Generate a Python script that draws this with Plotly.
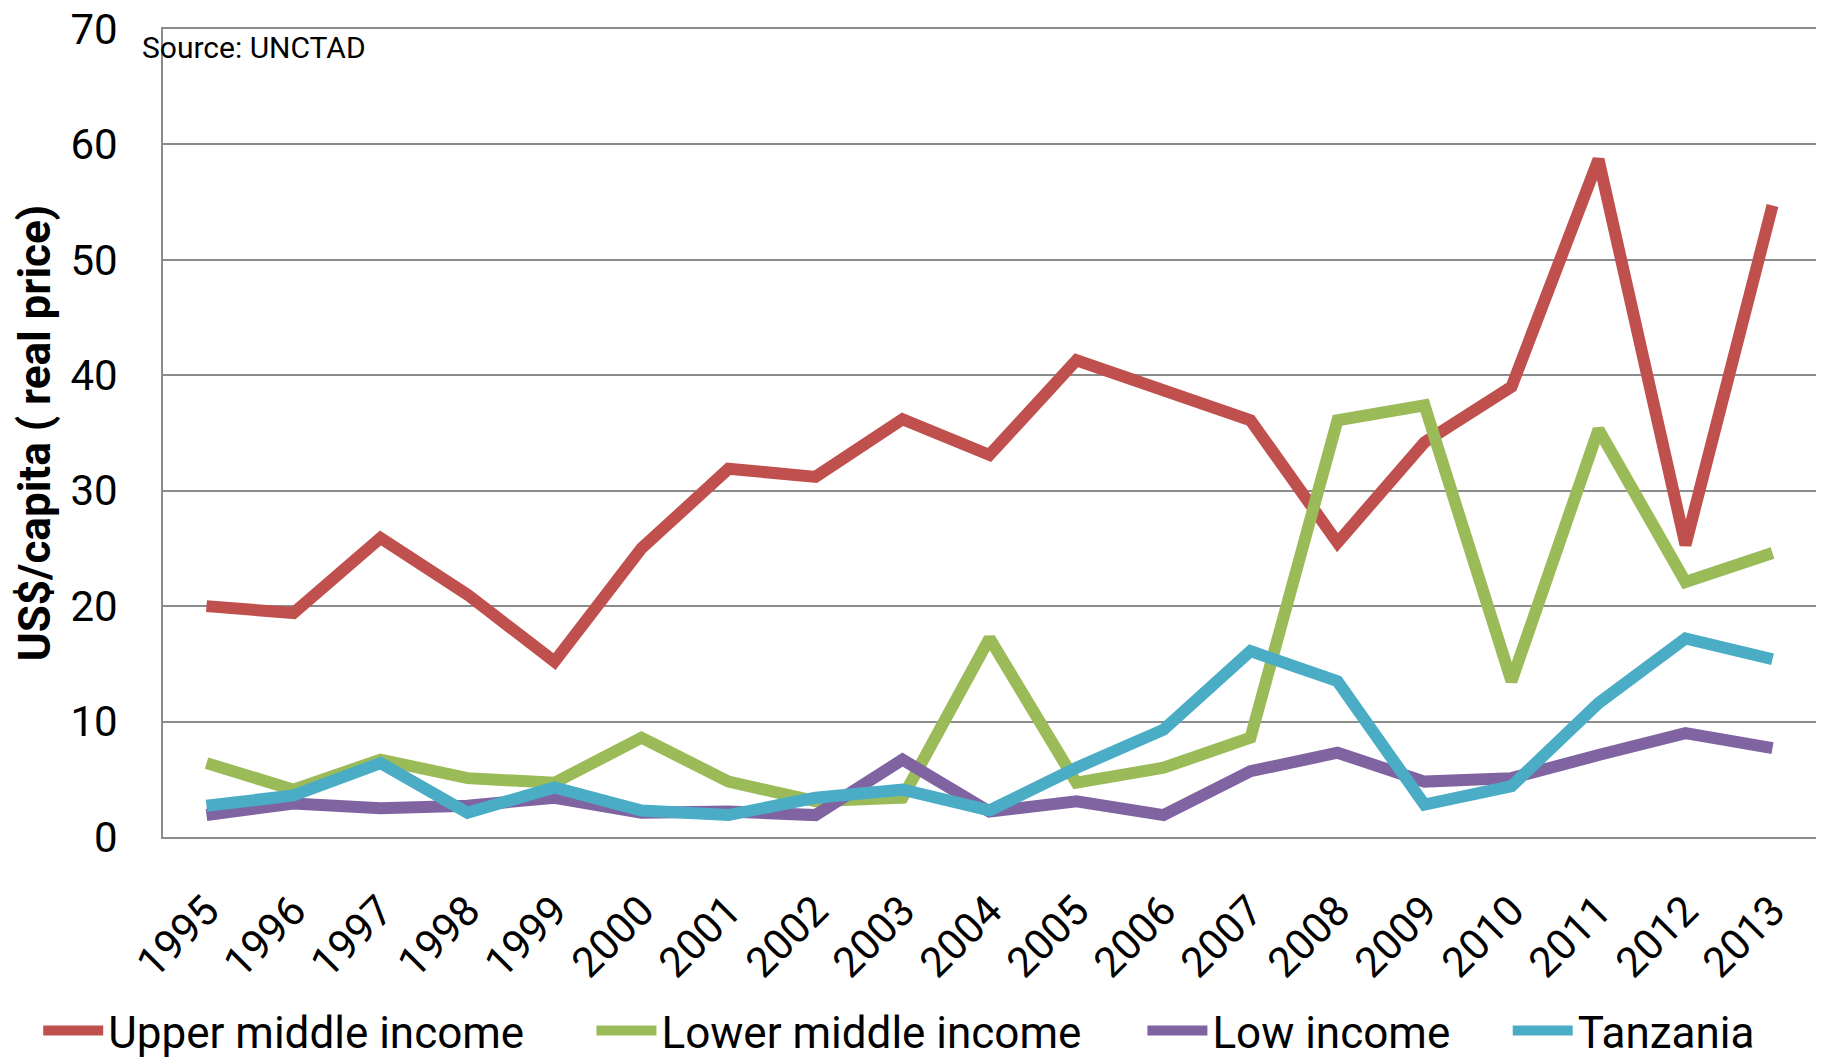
import plotly.graph_objects as go

years = ["1995", "1996", "1997", "1998", "1999", "2000", "2001", "2002", "2003", "2004",
         "2005", "2006", "2007", "2008", "2009", "2010", "2011", "2012", "2013"]

upper_middle = [20.0, 19.4, 25.9, 21.0, 15.2, 25.0, 31.9, 31.2, 36.2, 33.1,
                41.3, 38.7, 36.1, 25.5, 34.2, 39.0, 58.7, 25.3, 54.7]
lower_middle = [6.4, 4.1, 6.7, 5.1, 4.7, 8.6, 4.8, 3.1, 3.4, 17.2,
                4.7, 6.0, 8.6, 36.1, 37.4, 13.5, 35.3, 22.1, 24.6]
low_income = [1.9, 2.9, 2.5, 2.7, 3.4, 2.1, 2.2, 1.9, 6.7, 2.2,
              3.1, 1.9, 5.7, 7.3, 4.8, 5.1, 7.1, 9.0, 7.7]
tanzania = [2.7, 3.6, 6.4, 2.1, 4.3, 2.3, 1.9, 3.4, 4.1, 2.3,
            6.0, 9.3, 16.1, 13.5, 2.8, 4.4, 11.6, 17.2, 15.4]

series_names = ["Upper middle income", "Lower middle income", "Low income", "Tanzania"]
series_values = [upper_middle, lower_middle, low_income, tanzania]
series_colors = ["#C0504D", "#9BBB59", "#8064A2", "#4BACC6"]
legend_ids = ["legend", "legend2", "legend3", "legend4"]
legend_x = [-0.0755, 0.2592, 0.5925, 0.8135]

y_ticks = [0, 10, 20, 30, 40, 50, 60, 70]

FONT = "Roboto, sans-serif"
GRID = "#8C8C8C"

fig = go.Figure()
for name, vals, col, lid in zip(series_names, series_values, series_colors, legend_ids):
    fig.add_trace(go.Scatter(
        x=years, y=vals, name=name, mode="lines",
        line=dict(color=col, width=12),
        legend=lid,
    ))

legends = {}
for lid, lx in zip(legend_ids, legend_x):
    legends[lid] = dict(
        orientation="h", x=lx, xanchor="left", y=-0.24, yanchor="middle",
        font=dict(size=44, family=FONT, color="black"),
        itemwidth=60, bgcolor="rgba(0,0,0,0)",
    )

fig.update_layout(
    width=1826, height=1060,
    margin=dict(l=163, r=10, t=29, b=223, autoexpand=False),
    paper_bgcolor="white", plot_bgcolor="white",
    font=dict(family=FONT, color="black", size=40),
    showlegend=True,
    annotations=[dict(
        text="Source: UNCTAD", xref="paper", yref="paper",
        x=-0.014, y=0.977, xanchor="left", yanchor="middle",
        showarrow=False, font=dict(size=30, family=FONT, color="black"),
    )],
    **legends,
)

fig.update_xaxes(
    type="category", range=[-0.5, 18.5],
    tickangle=-45, tickfont=dict(size=42, family=FONT),
    showgrid=False, showline=True, mirror=True, linecolor=GRID, linewidth=2,
    ticks="", ticklabelstandoff=30, automargin=False,
)
fig.update_yaxes(
    range=[0, 70], tickvals=y_ticks,
    tickfont=dict(size=42, family=FONT),
    showgrid=True, gridcolor=GRID, gridwidth=2,
    zeroline=True, zerolinecolor=GRID, zerolinewidth=2,
    showline=True, linecolor=GRID, linewidth=2,
    ticks="", ticklabelstandoff=35, automargin=False,
    title=dict(text="<b>US$/capita ( real price)</b>", font=dict(size=44, family=FONT), standoff=6),
)

fig.write_html("out.html")
